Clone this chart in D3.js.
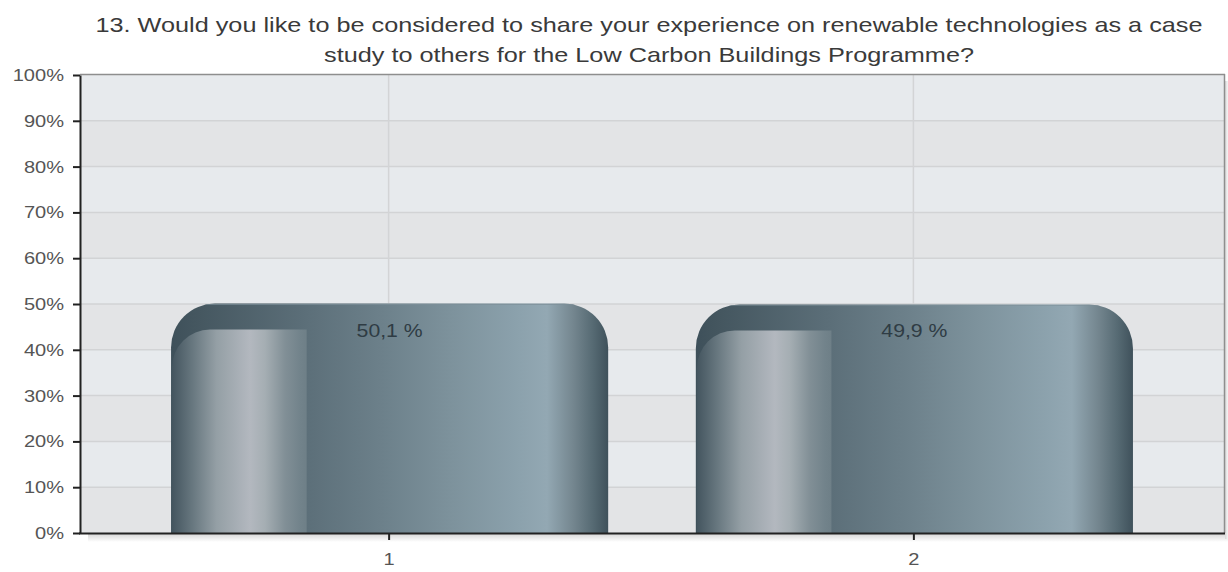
<!DOCTYPE html>
<html>
<head>
<meta charset="utf-8">
<script src="https://cdn.jsdelivr.net/npm/d3@7"></script>
<style>
  html, body { margin: 0; padding: 0; background: #ffffff; }
  svg { display: block; font-family: "Liberation Sans", Arial, sans-serif; }
</style>
</head>
<body>
<svg id="chart" width="1228" height="572"></svg>
<script>
// ---- data ----
const titleLines = [
  "13. Would you like to be considered to share your experience on renewable technologies as a case",
  "study to others for the Low Carbon Buildings Programme?"
];
const categories = ["1", "2"];
const values = [50.1, 49.9];
const yTicks = [0, 10, 20, 30, 40, 50, 60, 70, 80, 90, 100];
const yTickLabels = ["0%", "10%", "20%", "30%", "40%", "50%", "60%", "70%", "80%", "90%", "100%"];

// ---- layout ----
const W = 1228, H = 572;
const plot = { left: 80, right: 1224, top: 75, bottom: 533 };
const SX = 1.18; // horizontal stretch of text seen in the reference

const svg = d3.select("#chart");
const defs = svg.append("defs");

const x = d3.scalePoint().domain(categories).range([plot.left, plot.right]).padding(0.59);
const y = d3.scaleLinear().domain([0, 100]).range([plot.bottom, plot.top]);
const barW = x.step() * 0.833;

const locale = d3.formatLocale({ decimal: ",", thousands: ".", grouping: [3], currency: ["", ""] });
const fmt = locale.format(".1f");

// ---- gradients ----
const bodyStops = [
  [0, "#3e505a"], [0.05, "#44565f"], [0.31, "#5c6f79"], [0.48, "#6c808a"], [0.64, "#7d929c"],
  [0.80, "#8ca2ad"], [0.86, "#93a8b3"], [0.92, "#74868f"], [0.965, "#566a73"], [1, "#3f515b"]
];
const panelStops = [
  [0, "#44555f"], [0.146, "#66767e"], [0.33, "#949fa5"], [0.58, "#b3b8bf"], [0.69, "#a5aeb3"],
  [0.84, "#818f96"], [0.95, "#72838b"], [1, "#6e7f87"]
];
function addGrad(id, stops) {
  const g = defs.append("linearGradient").attr("id", id)
    .attr("x1", "0").attr("y1", "0").attr("x2", "1").attr("y2", "0");
  stops.forEach(s => g.append("stop").attr("offset", s[0]).attr("stop-color", s[1]));
}
addGrad("bodyGrad", bodyStops);
addGrad("panelGrad", panelStops);
const sh = defs.append("linearGradient").attr("id", "shadowGrad")
  .attr("x1", "0").attr("y1", "0").attr("x2", "0").attr("y2", "1");
sh.append("stop").attr("offset", 0).attr("stop-color", "#d8d8d8");
sh.append("stop").attr("offset", 1).attr("stop-color", "#ffffff");
const shr = defs.append("linearGradient").attr("id", "shadowGradR")
  .attr("x1", "0").attr("y1", "0").attr("x2", "1").attr("y2", "0");
shr.append("stop").attr("offset", 0).attr("stop-color", "#d8d8d8");
shr.append("stop").attr("offset", 1).attr("stop-color", "#ffffff");

// ---- title ----
const titleWidths = [1107, 650];
const titleBase = [32, 62];
titleLines.forEach((t, i) => {
  svg.append("text")
    .attr("x", 649).attr("y", titleBase[i])
    .attr("text-anchor", "middle")
    .attr("font-size", 21)
    .attr("fill", "#3a3a3a")
    .attr("textLength", titleWidths[i])
    .attr("lengthAdjust", "spacingAndGlyphs")
    .text(t);
});

// ---- shadows ----
svg.append("rect").attr("x", plot.left + 8).attr("y", plot.bottom + 1)
  .attr("width", plot.right - plot.left - 4).attr("height", 8).attr("fill", "url(#shadowGrad)");
svg.append("rect").attr("x", plot.right + 1).attr("y", plot.top + 6)
  .attr("width", 4).attr("height", plot.bottom - plot.top).attr("fill", "url(#shadowGradR)");

// ---- plot background bands ----
const bands = yTicks.slice(0, -1).map((v, i) => [v, yTicks[i + 1], i]);
svg.append("g").selectAll("rect").data(bands).join("rect")
  .attr("x", plot.left).attr("width", plot.right - plot.left)
  .attr("y", d => y(d[1])).attr("height", d => y(d[0]) - y(d[1]))
  .attr("fill", d => d[2] % 2 === 0 ? "#e3e4e6" : "#e7eaed");

// gridlines
svg.append("g").selectAll("line").data(yTicks.slice(1, -1)).join("line")
  .attr("x1", plot.left).attr("x2", plot.right)
  .attr("y1", d => y(d)).attr("y2", d => y(d))
  .attr("stroke", "#d2d3d5").attr("stroke-width", 1.5);
svg.append("g").selectAll("line").data(categories).join("line")
  .attr("x1", d => x(d) - 1).attr("x2", d => x(d) - 1)
  .attr("y1", plot.top).attr("y2", plot.bottom)
  .attr("stroke", "#d3d4d6").attr("stroke-width", 1.5);

// frame top/right
svg.append("line").attr("x1", plot.left).attr("x2", plot.right + 1)
  .attr("y1", plot.top - 0.5).attr("y2", plot.top - 0.5)
  .attr("stroke", "#8e8e8e").attr("stroke-width", 1.5);
svg.append("line").attr("x1", plot.right + 0.5).attr("x2", plot.right + 0.5)
  .attr("y1", plot.top - 1).attr("y2", plot.bottom)
  .attr("stroke", "#8e8e8e").attr("stroke-width", 1.5);

// ---- bars ----
const R = 44;
function barPath(bx, y0, w, y1, r) {
  return `M${bx},${y1} V${y0 + r} A${r},${r} 0 0 1 ${bx + r},${y0} H${bx + w - r} A${r},${r} 0 0 1 ${bx + w},${y0 + r} V${y1} Z`;
}
function panelPath(px, py, pw, y1, r) {
  return `M${px},${y1} V${py + r} A${r},${r} 0 0 1 ${px + r},${py} H${px + pw} V${y1} Z`;
}
const barsG = svg.append("g");
categories.forEach((c, i) => {
  const bx = x(c) - barW / 2;
  const y0 = y(values[i]);
  const y1 = y(0);
  const cid = "clip" + i;
  defs.append("clipPath").attr("id", cid).append("path").attr("d", barPath(bx, y0, barW, y1, R));
  const g = barsG.append("g");
  g.append("path").attr("d", barPath(bx, y0, barW, y1, R)).attr("fill", "url(#bodyGrad)");
  // top rim highlight
  g.append("path").attr("d", `M${bx + R * 0.5},${y0 + 0.8} H${bx + barW - R * 0.5}`)
    .attr("stroke", "#7c8f99").attr("stroke-width", 1.2).attr("opacity", 0.7)
    .attr("clip-path", `url(#${cid})`);
  // inner glossy panel
  g.append("path")
    .attr("d", panelPath(bx + 1, y0 + 26, barW * 0.308, y1, 38))
    .attr("fill", "url(#panelGrad)")
    .attr("clip-path", `url(#${cid})`);
  // value label
  g.append("text")
    .attr("transform", `translate(${x(c)},${y0 + 33}) scale(${SX},1)`)
    .attr("text-anchor", "middle")
    .attr("font-size", 18)
    .attr("fill", "#2f3c44")
    .text(fmt(values[i]) + " %");
});

// ---- axes ----
const yAxis = d3.axisLeft(y).tickValues(yTicks)
  .tickFormat((d, i) => yTickLabels[i]).tickSize(7).tickSizeOuter(0).tickPadding(9);
const gy = svg.append("g").attr("transform", `translate(${plot.left},0)`).call(yAxis);
gy.select(".domain").attr("stroke", "#222").attr("stroke-width", 2);
gy.selectAll(".tick line").attr("stroke", "#222").attr("stroke-width", 2);
gy.selectAll(".tick text")
  .attr("font-size", 17).attr("fill", "#555555")
  .attr("font-family", "Liberation Sans, Arial, sans-serif")
  .attr("x", -16 / SX)
  .attr("transform", `scale(${SX},1)`);

const xAxis = d3.axisBottom(x).tickSize(7).tickSizeOuter(0).tickPadding(13);
const gx = svg.append("g").attr("transform", `translate(0,${plot.bottom})`).call(xAxis);
gx.select(".domain").attr("d", `M${plot.left - 1},0.5H${plot.right + 1}`)
  .attr("stroke", "#222").attr("stroke-width", 2);
gx.selectAll(".tick line").attr("stroke", "#222").attr("stroke-width", 2)
  .attr("transform", "translate(-1,0)");
gx.selectAll(".tick text")
  .attr("font-size", 17).attr("fill", "#555555")
  .attr("font-family", "Liberation Sans, Arial, sans-serif")
  .attr("transform", `translate(-1,0) scale(${SX},1)`);
</script>
</body>
</html>
